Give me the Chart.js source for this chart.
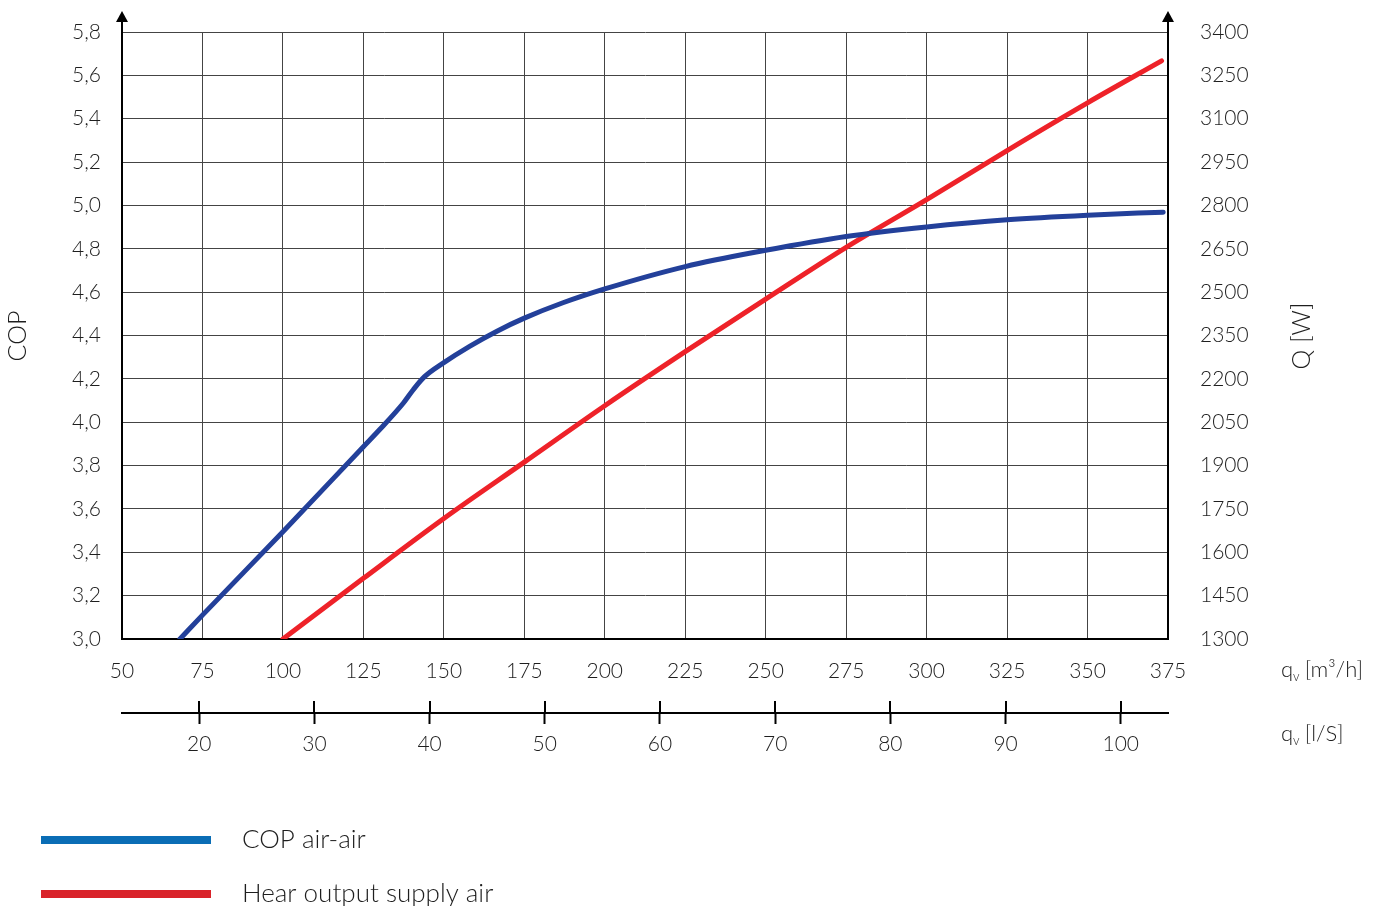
<!DOCTYPE html>
<html>
<head>
<meta charset="utf-8">
<script src="https://cdn.jsdelivr.net/npm/chart.js@4.4.1/dist/chart.umd.min.js"></script>
<style>
  body { margin: 0; background: #fff; }
  #wrap { width: 1385px; height: 906px; }
</style>
</head>
<body>
<div id="wrap"><canvas id="copChart" width="1385" height="906"></canvas></div>
<script>
// airflow in m3/h and the values
const flowCop = [68, 75, 100, 125, 130, 137.5, 140.5, 144, 150, 158, 166.5, 175, 187, 200, 225, 250, 275, 300, 325, 350, 373.5];
const copValues = [3.0, 3.11, 3.495, 3.887, 3.965, 4.09, 4.15, 4.21, 4.275, 4.35, 4.42, 4.48, 4.551, 4.615, 4.718, 4.793, 4.857, 4.901, 4.934, 4.955, 4.969];
const flowHeat = [100, 125, 150, 175, 200, 225, 250, 275, 300, 325, 350, 373];
const heatValues = [1300, 1510, 1717, 1912, 2107, 2294, 2476, 2655, 2820, 2990, 3155, 3300];

// tick labels
const flowTicks = [50, 75, 100, 125, 150, 175, 200, 225, 250, 275, 300, 325, 350, 375];
const lsTicks = [20, 30, 40, 50, 60, 70, 80, 90, 100];
const copTicks = [3.0, 3.2, 3.4, 3.6, 3.8, 4.0, 4.2, 4.4, 4.6, 4.8, 5.0, 5.2, 5.4, 5.6, 5.8];
const copTickLabels = ['3,0', '3,2', '3,4', '3,6', '3,8', '4,0', '4,2', '4,4', '4,6', '4,8', '5,0', '5,2', '5,4', '5,6', '5,8'];
const heatTicks = [1300, 1450, 1600, 1750, 1900, 2050, 2200, 2350, 2500, 2650, 2800, 2950, 3100, 3250, 3400];

const seriesNames = ['COP air-air', 'Hear output supply air'];

const FONT = 'Lato';
const TEXT = '#1e1e1e';

const toPoints = (xs, ys) => xs.map((x, i) => ({ x: x, y: ys[i] }));
const setTicks = list => scale => { scale.ticks = list.map(v => ({ value: v })); };
const fixWidth = w => s => { s.width = w; s.paddingTop = 0; s.paddingBottom = 0; };

// arrows, second axis tick tops, titles, units and legend
const extras = {
  id: 'extras',
  afterDraw(chart) {
    const { ctx, chartArea: a, scales } = chart;
    ctx.save();
    ctx.fillStyle = '#000';
    ctx.strokeStyle = '#000';

    [a.left, a.right].forEach(x => {
      ctx.fillRect(x - 1, 20, 2, a.top - 19);
      ctx.beginPath();
      ctx.moveTo(x, 11);
      ctx.lineTo(x - 6, 22);
      ctx.lineTo(x + 6, 22);
      ctx.closePath();
      ctx.fill();
    });

    const s2 = scales.x2;
    ctx.lineWidth = 2;
    s2.ticks.forEach(t => {
      const x = Math.round(s2.getPixelForValue(t.value));
      ctx.beginPath();
      ctx.moveTo(x, s2.top);
      ctx.lineTo(x, s2.top - 12);
      ctx.stroke();
    });

    ctx.fillStyle = TEXT;
    ctx.textAlign = 'center';
    ctx.textBaseline = 'middle';
    ctx.font = '300 25px ' + FONT;
    [[18, 336, 'COP'], [1302, 336, 'Q [W]']].forEach(([x, y, txt]) => {
      ctx.save();
      ctx.translate(x, y);
      ctx.rotate(-Math.PI / 2);
      ctx.fillText(txt, 0, 0);
      ctx.restore();
    });

    // q_v unit labels
    ctx.textAlign = 'left';
    ctx.textBaseline = 'alphabetic';
    [[677, '[m³/h]'], [741, '[l/S]']].forEach(([y, unit]) => {
      let x = 1281;
      ctx.font = '300 22px ' + FONT;
      ctx.fillText('q', x, y);
      x += ctx.measureText('q').width;
      ctx.font = '300 13px ' + FONT;
      ctx.fillText('v', x, y + 4);
      x += ctx.measureText('v').width + 5;
      ctx.font = '300 22px ' + FONT;
      ctx.fillText(unit, x, y);
    });

    // legend
    const legendColors = ['#0a6db5', '#d9232a'];
    const legendY = [840, 894];
    ctx.lineWidth = 8;
    seriesNames.forEach((name, i) => {
      ctx.strokeStyle = legendColors[i];
      ctx.beginPath();
      ctx.moveTo(41, legendY[i]);
      ctx.lineTo(211, legendY[i]);
      ctx.stroke();
      ctx.font = '300 26px ' + FONT;
      ctx.fillStyle = TEXT;
      ctx.fillText(name, 242, legendY[i] + 8);
    });
    ctx.restore();
  }
};

new Chart(document.getElementById('copChart'), {
  type: 'scatter',
  data: {
    datasets: [{
      label: seriesNames[0],
      data: toPoints(flowCop, copValues),
      yAxisID: 'y',
      showLine: true,
      borderColor: '#23409a',
      borderWidth: 5,
      borderCapStyle: 'round',
      pointRadius: 0,
      cubicInterpolationMode: 'monotone',
    }, {
      label: seriesNames[1],
      data: toPoints(flowHeat, heatValues),
      yAxisID: 'y2',
      showLine: true,
      borderColor: '#ee2229',
      borderWidth: 5,
      borderCapStyle: 'round',
      pointRadius: 0,
      cubicInterpolationMode: 'monotone',
    }],
  },
  options: {
    responsive: false,
    animation: false,
    devicePixelRatio: 1,
    layout: { padding: { top: 32, left: 0, right: 0, bottom: 133 } },
    plugins: {
      legend: { display: false },
      tooltip: { enabled: false },
    },
    scales: {
      x: {
        type: 'linear',
        position: 'bottom',
        min: 50,
        max: 375,
        afterBuildTicks: setTicks(flowTicks),
        afterFit: s => { s.height = 74; },
        grid: { color: '#444', lineWidth: 1, drawTicks: false },
        border: { color: '#000', width: 2 },
        ticks: { color: TEXT, padding: 20, font: { family: FONT, size: 21, weight: '300' } },
      },
      x2: {
        type: 'linear',
        position: 'bottom',
        min: 13.3,
        max: 104.1,
        afterBuildTicks: setTicks(lsTicks),
        afterFit: s => { s.height = 60; },
        grid: { drawOnChartArea: false, drawTicks: true, tickLength: 11, tickWidth: 2, tickColor: '#000' },
        border: { display: true, color: '#000', width: 2 },
        ticks: { color: TEXT, padding: 8, font: { family: FONT, size: 21, weight: '300' } },
      },
      y: {
        type: 'linear',
        position: 'left',
        min: 3.0,
        max: 5.8,
        afterBuildTicks: setTicks(copTicks),
        afterFit: fixWidth(122),
        grid: { color: '#444', lineWidth: 1, drawTicks: false },
        border: { color: '#000', width: 2 },
        ticks: {
          color: TEXT,
          padding: 21,
          font: { family: FONT, size: 21, weight: '300' },
          callback: (v, i) => copTickLabels[i],
        },
      },
      y2: {
        type: 'linear',
        position: 'right',
        min: 1300,
        max: 3400,
        afterBuildTicks: setTicks(heatTicks),
        afterFit: fixWidth(217),
        grid: { drawOnChartArea: false, drawTicks: false },
        border: { color: '#000', width: 2 },
        ticks: {
          color: TEXT,
          padding: 32,
          font: { family: FONT, size: 21, weight: '300' },
          callback: v => String(v),
        },
      },
    },
  },
  plugins: [extras],
});
</script>
</body>
</html>
